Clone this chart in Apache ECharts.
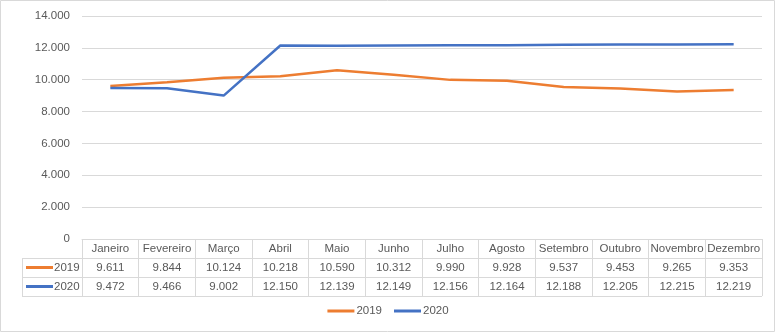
<!DOCTYPE html>
<html><head><meta charset="utf-8">
<script src="https://cdn.jsdelivr.net/npm/echarts@6/dist/echarts.min.js"></script>
<style>html,body{margin:0;padding:0;background:#fff}#c{width:776px;height:333px}</style>
</head><body><div id="c"></div>
<script>
const categories = ['Janeiro','Fevereiro','Março','Abril','Maio','Junho','Julho','Agosto','Setembro','Outubro','Novembro','Dezembro'];
const seriesNames = ['2019','2020'];
const values2019 = [9611,9844,10124,10218,10590,10312,9990,9928,9537,9453,9265,9353];
const values2020 = [9472,9466,9002,12150,12139,12149,12156,12164,12188,12205,12215,12219];
const yTicks = [0,2000,4000,6000,8000,10000,12000,14000];
const colors = ['#ED7D31','#4472C4'];

function fmt(v){ const s=String(Math.round(v)); return s.replace(/\B(?=(\d{3})+(?!\d))/g,'.'); }

const FONT = "'Liberation Sans', sans-serif";
const FS = 11.5;
const TXT = '#595959';
const GRID = '#D9D9D9';
const L=82, R=762, T=16, B=239, ROW=19;
const chart = echarts.init(document.getElementById('c'), null, {renderer:'canvas'});

const graphics = [
  {type:'rect', shape:{x:0.5,y:0.5,width:774,height:331}, style:{fill:'none',stroke:GRID,lineWidth:1}, silent:true}
];
[1,2,3].forEach(i=>{
  graphics.push({type:'line', shape:{x1:22,y1:B+i*ROW+0.5,x2:R,y2:B+i*ROW+0.5}, style:{stroke:GRID,lineWidth:1}, silent:true});
});
graphics.push({type:'line', shape:{x1:22.5,y1:B+ROW,x2:22.5,y2:B+3*ROW}, style:{stroke:GRID,lineWidth:1}, silent:true});
seriesNames.forEach((n,i)=>{
  const yc = B + ROW*(i+1) + ROW/2;
  graphics.push({type:'line', shape:{x1:26,y1:yc,x2:53,y2:yc}, style:{stroke:colors[i],lineWidth:3}, silent:true});
  graphics.push({type:'text', x:54, y:yc, style:{text:n, fill:TXT, font:FS+'px '+FONT, textVerticalAlign:'middle'}, silent:true});
});

chart.setOption({
  animation:false,
  textStyle:{fontFamily:FONT},
  grid:{left:L, right:776-R, top:T, bottom:333-B, containLabel:false},
  xAxis:{
    type:'category', data:categories, boundaryGap:true,
    axisLine:{show:true, lineStyle:{color:GRID}},
    axisTick:{show:true, length:ROW*3, lineStyle:{color:GRID}},
    axisLabel:{
      interval:0, margin:0, color:TXT, fontSize:FS, lineHeight:ROW, fontFamily:FONT,
      formatter:(v,idx)=> v + '\n' + fmt(values2019[idx]) + '\n' + fmt(values2020[idx])
    }
  },
  yAxis:{
    type:'value', min:yTicks[0], max:yTicks[yTicks.length-1], interval:2000,
    axisLine:{show:false}, axisTick:{show:false},
    splitLine:{lineStyle:{color:GRID}},
    axisLabel:{color:TXT, fontSize:FS, margin:12, fontFamily:FONT, formatter:v=>fmt(v)}
  },
  legend:{
    bottom:11, left:'center', itemWidth:27, itemHeight:3, itemGap:12, icon:'rect',
    textStyle:{color:TXT, fontSize:FS, fontFamily:FONT, padding:[0,0,0,-3]},
    data:seriesNames
  },
  series:[
    {name:seriesNames[0], type:'line', data:values2019, symbol:'none', lineStyle:{width:2.5,color:colors[0]}, itemStyle:{color:colors[0]}},
    {name:seriesNames[1], type:'line', data:values2020, symbol:'none', lineStyle:{width:2.5,color:colors[1]}, itemStyle:{color:colors[1]}}
  ],
  graphic:graphics
});
</script></body></html>
